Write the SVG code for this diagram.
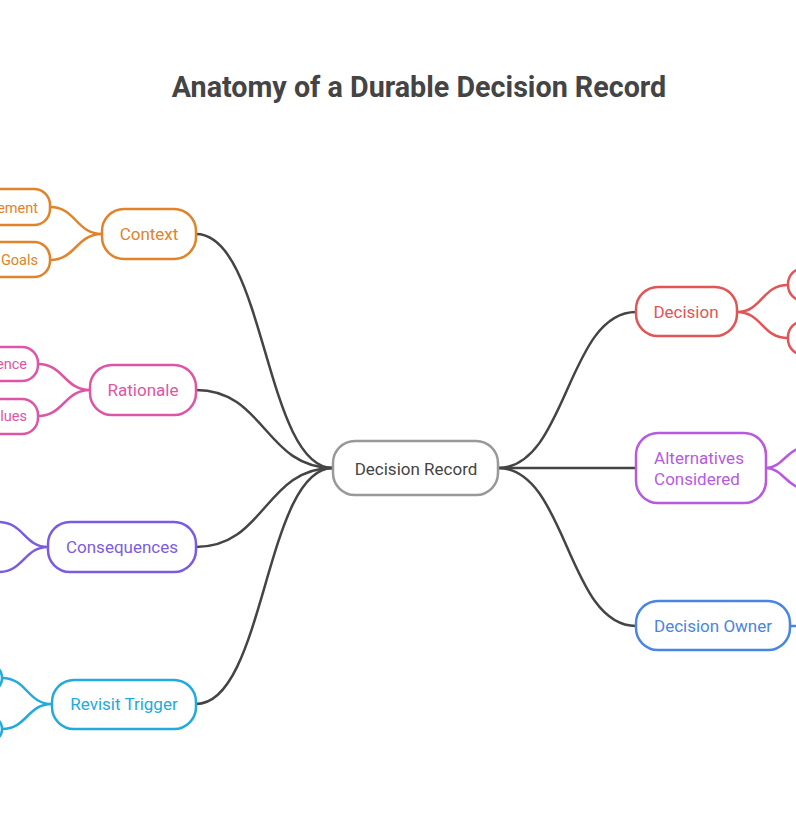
<svg xmlns="http://www.w3.org/2000/svg" width="796" height="817" viewBox="0 0 796 817">
<style>
text{font-family:Roboto,"Liberation Sans",sans-serif;font-size:17px;text-anchor:middle;dominant-baseline:central}
.t{font-size:28.7px;font-weight:bold;fill:#444}
rect{fill:#fff;stroke-width:2.5}
path{fill:none;stroke-width:2.5}
.m{stroke:#444}
.o{stroke:#E0832A}.o2{fill:#E0832A}
.p{stroke:#DD55A5}.p2{fill:#DD55A5}
.v{stroke:#7B5CE0}.v2{fill:#7B5CE0}
.c{stroke:#22AADD}.c2{fill:#22AADD}
.r{stroke:#E05555}.r2{fill:#E05555}
.a{stroke:#B85AE0}.a2{fill:#B85AE0}
.b{stroke:#4A85E0}.b2{fill:#4A85E0}
</style>
<rect width="796" height="817" style="fill:#fff;stroke:none"/>
<text class="t" x="419" y="87">Anatomy of a Durable Decision Record</text>
<g id="connectors">
<path class="m" d="M333 468C265 468 265 234 196 234"/>
<path class="m" d="M333 468C265 468 265 390 196 390"/>
<path class="m" d="M333 468C265 468 265 547 196 547"/>
<path class="m" d="M333 468C265 468 265 704 196 704"/>
<path class="m" d="M498 468C567 468 567 312 636 312"/>
<path class="m" d="M498 468H636"/>
<path class="m" d="M498 468C567 468 567 626 636 626"/>
<path class="o" d="M102 234C76 234 76 207 50 207M102 234C76 234 76 260 50 260"/>
<path class="p" d="M90 390C64 390 64 364 38 364M90 390C64 390 64 416 38 416"/>
<path class="v" d="M48 547C24 547 24 522 -2 522M48 547C24 547 24 572 -2 572"/>
<path class="c" d="M52 704C27 704 27 678 2 678M52 704C27 704 27 729 2 729"/>
<path class="r" d="M737 312C762 312 762 285 788 285M737 312C762 312 762 338 788 338"/>
<path class="a" d="M766 468C781 468 786 452 800 448M766 468C781 468 786 484 800 488"/>
<path class="b" d="M790 626H800"/>
</g>
<g id="center"><rect x="333" y="441" width="165" height="54" rx="22" style="stroke:#999"/><text x="416" y="469" style="fill:#444">Decision Record</text></g>
<g id="context"><rect class="o" x="102" y="209" width="94" height="50" rx="22"/><text class="o2" x="149" y="234">Context</text></g>
<g id="context-1"><rect class="o" x="-120" y="189" width="170" height="36" rx="16"/><text class="o2" x="38" y="208" style="font-size:14.5px;text-anchor:end">Problem Statement</text></g>
<g id="context-2"><rect class="o" x="-120" y="242" width="170" height="35" rx="16"/><text class="o2" x="38" y="260" style="font-size:14.5px;text-anchor:end">Goals</text></g>
<g id="rationale"><rect class="p" x="90" y="365" width="106" height="50" rx="22"/><text class="p2" x="143" y="390">Rationale</text></g>
<g id="rationale-1"><rect class="p" x="-120" y="347" width="158" height="34" rx="16"/><text class="p2" x="27" y="364" style="font-size:14.5px;text-anchor:end">Evidence</text></g>
<g id="rationale-2"><rect class="p" x="-120" y="399" width="158" height="35" rx="16"/><text class="p2" x="27" y="416" style="font-size:14.5px;text-anchor:end">Values</text></g>
<g id="consequences"><rect class="v" x="48" y="522" width="148" height="50" rx="22"/><text class="v2" x="122" y="547">Consequences</text></g>
<g id="revisit"><rect class="c" x="52" y="680" width="144" height="49" rx="22"/><text class="c2" x="124" y="704">Revisit Trigger</text></g>
<g id="revisit-1"><rect class="c" x="-120" y="664" width="122" height="28" rx="14"/></g>
<g id="revisit-2"><rect class="c" x="-120" y="716" width="122" height="26" rx="13"/></g>
<g id="decision"><rect class="r" x="636" y="287" width="101" height="49" rx="22"/><text class="r2" x="686" y="312">Decision</text></g>
<g id="decision-1"><rect class="r" x="788" y="268" width="100" height="33" rx="16"/></g>
<g id="decision-2"><rect class="r" x="788" y="321" width="100" height="34" rx="16"/></g>
<g id="alternatives"><rect class="a" x="636" y="433" width="130" height="70" rx="22"/><text class="a2" x="699" y="458">Alternatives</text><text class="a2" x="697" y="479">Considered</text></g>
<g id="owner"><rect class="b" x="636" y="601" width="154" height="49" rx="22"/><text class="b2" x="713" y="626">Decision Owner</text></g>
</svg>
